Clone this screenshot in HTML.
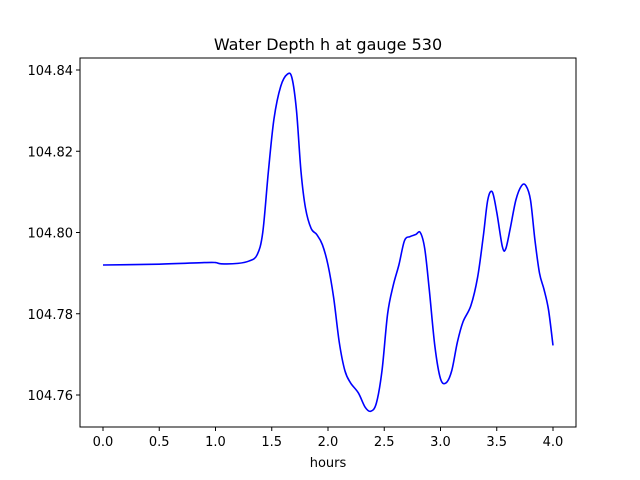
<!DOCTYPE html>
<html><head><meta charset="utf-8"><style>
body{margin:0;background:#fff;}
svg{display:block;font-family:"DejaVu Sans","Liberation Sans",sans-serif;}
</style></head><body>
<svg id="chart" width="640" height="480">
<rect x="0" y="0" width="640" height="480" fill="#fff"/>
<text x="328" y="50" text-anchor="middle" font-size="16">Water Depth h at gauge 530</text>
<g id="plot"></g>
<rect x="80" y="58" width="496" height="369" fill="none" stroke="#000" stroke-width="1"/>
<text x="328" y="467" text-anchor="middle" font-size="13">hours</text>
</svg>
<script>
const times=[0,0.5,0.9,1.0,1.05,1.2,1.3,1.37,1.42,1.47,1.52,1.58,1.64,1.68,1.72,1.76,1.80,1.85,1.90,1.95,2.0,2.05,2.1,2.15,2.2,2.27,2.33,2.38,2.43,2.48,2.53,2.58,2.63,2.68,2.73,2.78,2.82,2.86,2.9,2.95,3.0,3.05,3.1,3.15,3.2,3.27,3.33,3.38,3.42,3.46,3.5,3.55,3.58,3.62,3.67,3.72,3.76,3.8,3.84,3.88,3.92,3.96,4.0];
const depth=[104.792,104.7922,104.7926,104.7926,104.7923,104.7924,104.793,104.7945,104.800,104.815,104.828,104.836,104.839,104.838,104.830,104.815,104.806,104.801,104.7995,104.797,104.792,104.784,104.773,104.766,104.763,104.7605,104.757,104.756,104.758,104.766,104.780,104.787,104.792,104.798,104.799,104.7995,104.800,104.796,104.786,104.772,104.764,104.763,104.766,104.773,104.778,104.782,104.789,104.799,104.808,104.810,104.805,104.7965,104.796,104.801,104.808,104.8115,104.8115,104.808,104.798,104.790,104.786,104.781,104.7722];
const xTicks=[0,0.5,1.0,1.5,2.0,2.5,3.0,3.5,4.0];
const xTickLabels=["0.0","0.5","1.0","1.5","2.0","2.5","3.0","3.5","4.0"];
const yTicks=[104.76,104.78,104.80,104.82,104.84];
const yTickLabels=["104.76","104.78","104.80","104.82","104.84"];
const NS="http://www.w3.org/2000/svg";
const g=document.getElementById('plot');
function xs(t){return 103+t*112.5;}
function ys(v){return 70+(104.84-v)*4062.5;}
function mk(tag,attrs){const e=document.createElementNS(NS,tag);for(const k in attrs)e.setAttribute(k,attrs[k]);g.appendChild(e);return e;}
xTicks.forEach((t,i)=>{
  const l=mk('line',{x1:xs(t),x2:xs(t),y1:427,y2:431,stroke:'#000'});
  
  
  const tx=mk('text',{x:xs(t),y:446,'text-anchor':'middle','font-size':'13'});
  tx.textContent=xTickLabels[i];
  
  
});
yTicks.forEach((v,i)=>{
  const l=mk('line',{x1:76,x2:80,y1:ys(v),y2:ys(v),stroke:'#000'});
  
  
  const tx=mk('text',{x:73,y:ys(v)+5,'text-anchor':'end','font-size':'13'});
  tx.textContent=yTickLabels[i];
  
  
});
const P=times.map((t,i)=>[xs(t),ys(depth[i])]);
let d='M'+P[0][0]+','+P[0][1];
for(let i=0;i<P.length-1;i++){
  const p0=P[Math.max(0,i-1)],p1=P[i],p2=P[i+1],p3=P[Math.min(P.length-1,i+2)];
  const c1=[p1[0]+(p2[0]-p0[0])/6,p1[1]+(p2[1]-p0[1])/6];
  const c2=[p2[0]-(p3[0]-p1[0])/6,p2[1]-(p3[1]-p1[1])/6];
  d+=' C'+c1[0]+','+c1[1]+' '+c2[0]+','+c2[1]+' '+p2[0]+','+p2[1];
}
const path=mk('path',{d:d,fill:'none',stroke:'#0000ff','stroke-width':'1.6'});


</script>
</body></html>
